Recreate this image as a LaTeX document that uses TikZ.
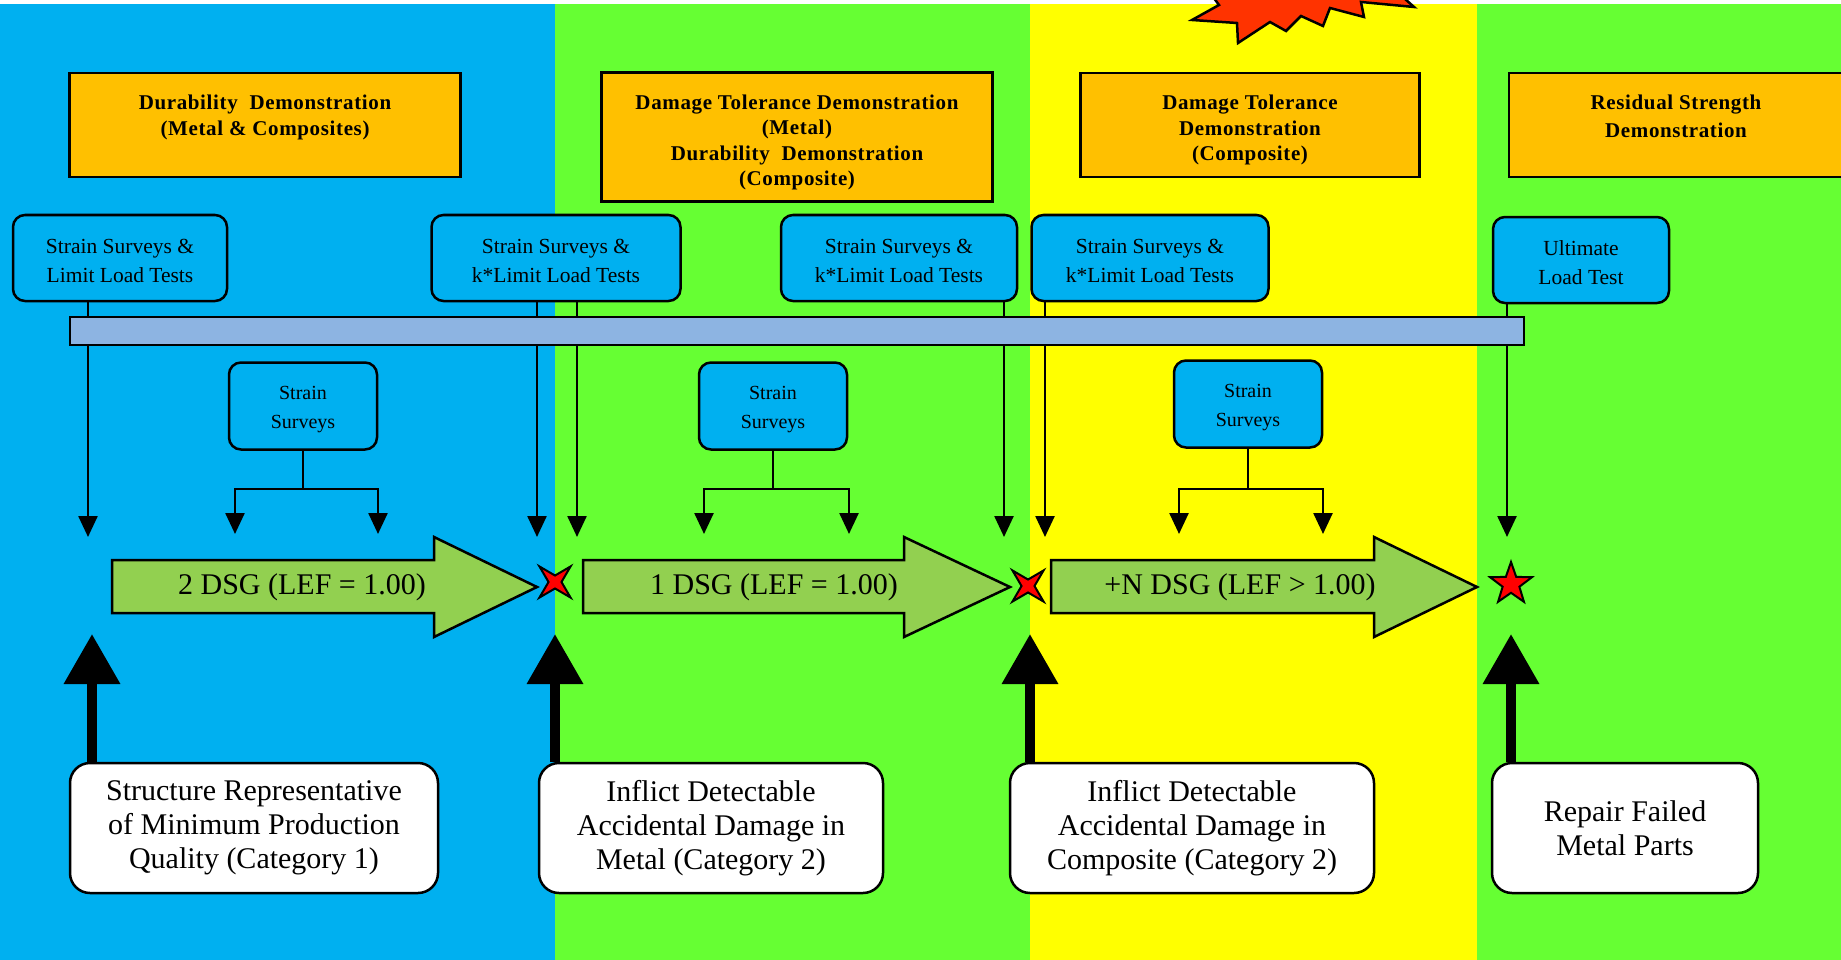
\documentclass[tikz,border=0pt]{standalone}
\usepackage{fontspec}
\setmainfont{Liberation Serif}
\newfontfamily\headfont[LetterSpace=3]{Liberation Serif}
\usetikzlibrary{arrows.meta,shapes.geometric}
\definecolor{panelblue}{HTML}{00B0F0}
\definecolor{panelgreen}{HTML}{66FF33}
\definecolor{panelyellow}{HTML}{FFFF00}
\definecolor{headorange}{HTML}{FFC000}
\definecolor{barblue}{HTML}{8DB4E2}
\definecolor{dsggreen}{HTML}{92D050}
\definecolor{burstred}{HTML}{FF3300}
\begin{document}
\begin{tikzpicture}[x=1pt,y=-1pt,
  head/.style={draw, line width=2.5pt, fill=headorange, rectangle, inner sep=0pt},
  headtext/.style={font=\headfont\bfseries\fontsize{21}{25.5}\selectfont, align=center, anchor=north, inner sep=0pt},
  testbox/.style={draw, line width=2.5pt, fill=panelblue, rounded corners=12pt, align=center,
    font=\fontsize{21.5}{29}\selectfont, inner sep=0pt, minimum height=86pt},
  surveybox/.style={draw, line width=2.5pt, fill=panelblue, rounded corners=12pt, align=center,
    font=\fontsize{20}{29}\selectfont, inner sep=0pt, minimum width=148pt, minimum height=87pt},
  casebox/.style={draw, line width=2.5pt, fill=white, rounded corners=20pt, align=center,
    font=\fontsize{30}{34}\selectfont, inner sep=0pt, minimum height=130pt},
  bar/.style={draw, line width=2.5pt, fill=barblue, rectangle, inner sep=0pt},
  drop/.style={line width=2.5pt, -{Triangle[width=19pt,length=21pt]}},
  link/.style={line width=2.5pt},
  dsgarrow/.style={draw, line width=2.5pt, fill=dsggreen, line join=miter},
  dsgtext/.style={font=\fontsize{30}{34}\selectfont, inner sep=0pt},
  liftarrow/.style={line width=10pt, -{Triangle[width=54pt,length=50pt]}},
  xmark/.style={star, star points=4, star point ratio=3.4, shape border rotate=45,
    minimum size=44pt, inner sep=0pt, draw, line width=2pt, fill=red},
  smark/.style={star, star points=5, star point ratio=2.5,
    minimum size=44pt, inner sep=0pt, draw, line width=2pt, fill=red},
  burst/.style={draw, line width=2.5pt, fill=burstred, line join=miter}
]
\useasboundingbox (0,0) rectangle (1841,960);
\clip (0,0) rectangle (1841,960);

% phase panels
\fill[white] (0,0) rectangle (1841,960);
\fill[panelblue]   (0,4)    rectangle (555,960);
\fill[panelgreen]  (555,4)  rectangle (1030,960);
\fill[panelyellow] (1030,4) rectangle (1477,960);
\fill[panelgreen]  (1477,4) rectangle (1841,960);

% explosion at the top edge
\draw[burst] (1208,-10) -- (1219,5) -- (1192,20) -- (1237,23) -- (1238,43) -- (1270,22)
  -- (1286,31) -- (1301,16) -- (1323,26) -- (1330,8) -- (1364,17) -- (1361,2)
  -- (1414,7) -- (1395,-10) -- cycle;

% demonstration headers
\node[head, minimum width=391pt, minimum height=104pt] (h1) at (265,125) {};
\node[headtext] (h1t) at ([yshift=-23pt]h1.north) {Durability\ \ Demonstration\\(Metal \& Composites)};
\node[head, minimum width=391pt, minimum height=129pt] (h2) at (797,137) {};
\node[headtext] (h2t) at ([yshift=-23pt]h2.north) {Damage Tolerance Demonstration\\(Metal)\\Durability\ \ Demonstration\\(Composite)};
\node[head, minimum width=339pt, minimum height=104pt] (h3) at (1250,125) {};
\node[headtext] (h3t) at ([yshift=-23pt]h3.north) {Damage Tolerance\\Demonstration\\(Composite)};
\node[head, minimum width=334pt, minimum height=104pt] (h4) at (1676,125) {};
\node[headtext, font=\headfont\bfseries\fontsize{21}{28}\selectfont] (h4t) at ([yshift=-23pt]h4.north) {Residual Strength\\Demonstration};

% load test boxes
\node[testbox, minimum width=214pt] (tA) at (120,258) {\strut Strain Surveys \&\\Limit Load Tests};
\node[testbox, minimum width=249pt] (tB) at (556,258) {\strut Strain Surveys \&\\k*Limit Load Tests};
\node[testbox, minimum width=236pt] (tC) at (899,258) {\strut Strain Surveys \&\\k*Limit Load Tests};
\node[testbox, minimum width=237pt] (tD) at (1150,258) {\strut Strain Surveys \&\\k*Limit Load Tests};
\node[testbox, minimum width=176pt] (tE) at (1581,260) {\strut Ultimate\\Load Test};

% drops from the test boxes through the timeline bar
\coordinate (d1) at (88,537);
\coordinate (d2) at (537,537);
\coordinate (d3) at (577,537);
\coordinate (d4) at (1004,537);
\coordinate (d5) at (1045,537);
\coordinate (d6) at (1507,537);
\draw[drop] (d1 |- tA.south) -- (d1);
\draw[drop] (d2 |- tB.south) -- (d2);
\draw[drop] (d3 |- tB.south) -- (d3);
\draw[drop] (d4 |- tC.south) -- (d4);
\draw[drop] (d5 |- tD.south) -- (d5);
\draw[drop] (d6 |- tE.south) -- (d6);

\node[bar, minimum width=1454pt, minimum height=28pt] (bar) at (797,331) {};

% intermediate strain surveys
\node[surveybox] (s1) at (303,406) {\strut Strain\\Surveys};
\node[surveybox] (s2) at (773,406) {\strut Strain\\Surveys};
\node[surveybox] (s3) at (1248,404) {\strut Strain\\Surveys};
\coordinate (s1l) at (235,534); \coordinate (s1r) at (378,534);
\coordinate (s2l) at (704,534); \coordinate (s2r) at (849,534);
\coordinate (s3l) at (1179,534); \coordinate (s3r) at (1323,534);
\draw[link] (s1.south) -- ++(0,38) coordinate (s1j);
\draw[drop] (s1j) -| (s1l);
\draw[drop] (s1j) -| (s1r);
\draw[link] (s2.south) -- ++(0,38) coordinate (s2j);
\draw[drop] (s2j) -| (s2l);
\draw[drop] (s2j) -| (s2r);
\draw[link] (s3.south) -- ++(0,40) coordinate (s3j);
\draw[drop] (s3j) -| (s3l);
\draw[drop] (s3j) -| (s3r);

% design service goal arrows
\draw[dsgarrow] (112,560) -- (434,560) -- (434,537) -- (537,587) -- (434,637) -- (434,613) -- (112,613) -- cycle;
\node[dsgtext] (g1) at (302,587) {2 DSG (LEF = 1.00)};
\draw[dsgarrow] (583,560) -- (904,560) -- (904,537) -- (1010,587) -- (904,637) -- (904,613) -- (583,613) -- cycle;
\node[dsgtext] (g2) at (774,587) {1 DSG (LEF = 1.00)};
\draw[dsgarrow] (1051,560) -- (1374,560) -- (1374,537) -- (1477,587) -- (1374,637) -- (1374,613) -- (1051,613) -- cycle;
\node[dsgtext] (g3) at (1240,587) {+N DSG (LEF > 1.00)};

% milestone markers
\node[xmark] (m1) at (555,582) {};
\node[xmark] (m2) at (1028,586) {};
\node[smark] (m3) at (1511,584) {};

% test article conditions
\coordinate (u1) at (92,634);
\coordinate (u2) at (555,634);
\coordinate (u3) at (1030,634);
\coordinate (u4) at (1511,634);
\node[casebox, minimum width=368pt] (c1) at (254,828) {Structure Representative\\of Minimum Production\\Quality (Category 1)};
\node[casebox, minimum width=344pt] (c2) at (711,828) {Inflict Detectable\\Accidental Damage in\\Metal (Category 2)};
\node[casebox, minimum width=364pt] (c3) at (1192,828) {Inflict Detectable\\Accidental Damage in\\Composite (Category 2)};
\node[casebox, minimum width=266pt] (c4) at (1625,828) {Repair Failed\\Metal Parts};
\draw[liftarrow] (u1 |- c1.north) -- (u1);
\draw[liftarrow] (u2 |- c2.north) -- (u2);
\draw[liftarrow] (u3 |- c3.north) -- (u3);
\draw[liftarrow] (u4 |- c4.north) -- (u4);
\end{tikzpicture}
\end{document}
